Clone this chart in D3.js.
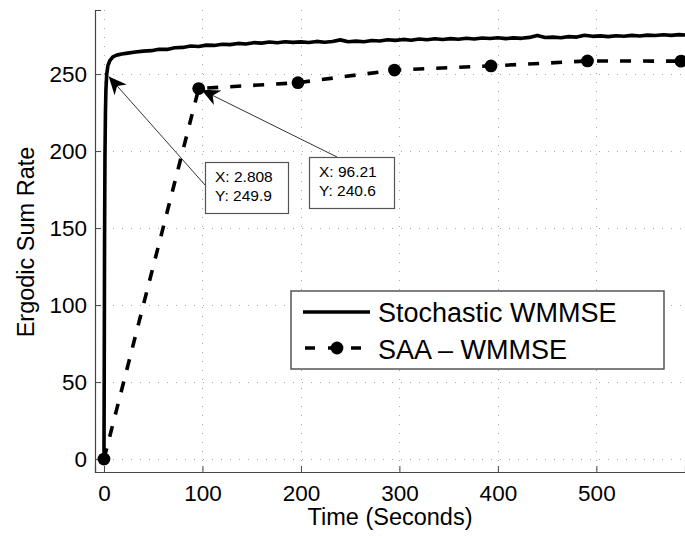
<!DOCTYPE html>
<html>
<head>
<meta charset="utf-8">
<style>
  body { margin: 0; background: #fff; }
  svg { font-family: "Liberation Sans", Arial, sans-serif; }
</style>
</head>
<body>
<script src="https://cdn.jsdelivr.net/npm/d3@7"></script>
<script>

// stochastic WMMSE curve (time in seconds, ergodic sum rate)
var stochX = [0, 0.3, 0.6, 1, 1.5, 2, 2.808, 4, 6, 9, 13, 18,
  24, 32, 40, 48, 56, 64, 72, 80, 88, 96, 104, 112, 120, 128, 136, 144, 152, 160,
  168, 176, 184, 192, 200, 208, 216, 224, 232, 240, 248, 256, 264, 272, 280, 288,
  296, 304, 312, 320, 328, 336, 344, 352, 360, 368, 376, 384, 392, 400, 408, 416,
  424, 432, 440, 448, 456, 464, 472, 480, 488, 496, 504, 512, 520, 528, 536, 544,
  552, 560, 568, 576, 584, 590];
var stochY = [0, 60, 140, 195, 225, 240, 249.9, 255.5, 258.8, 261.2, 262.3, 263.0,
  263.6, 264.3, 264.9, 265.2, 266.1, 266.0, 267.1, 267.3, 268.2, 267.9, 268.8, 268.6, 269.4, 269.1, 269.9, 269.5, 270.4, 270.1,
  270.8, 270.3, 271.0, 270.6, 270.9, 270.5, 271.2, 270.7, 271.1, 272.2, 271.0, 271.4, 271.0, 271.8, 271.5, 272.3,
  271.9, 272.5, 272.0, 272.8, 272.3, 272.9, 272.4, 273.0, 272.6, 273.3, 272.8, 273.4, 273.1, 273.6, 273.0, 273.5,
  273.2, 273.8, 275.1, 273.7, 274.0, 273.6, 274.3, 274.0, 275.2, 274.5, 274.8, 274.3, 274.9, 274.6, 275.1, 274.7,
  275.3, 275.0, 275.5, 275.1, 275.6, 275.4];

// SAA - WMMSE points
var saaX = [0, 96.21, 197, 295, 393, 491, 586];
var saaY = [0, 240.6, 244.4, 252.6, 255.3, 258.5, 258.4];

var xTicks = [0, 100, 200, 300, 400, 500];
var yTicks = [0, 50, 100, 150, 200, 250];

// data cursor boxes
var cursors = [
  {x: 2.808, y: 249.9, lines: ["X: 2.808", "Y: 249.9"]},
  {x: 96.21, y: 240.6, lines: ["X: 96.21", "Y: 240.6"]}
];

var W = 685, H = 537;
var pL = 95, pR = 685, pT = 10, pB = 472;

var svg = d3.select("body").append("svg")
  .attr("width", W).attr("height", H);

svg.append("rect").attr("width", W).attr("height", H).attr("fill", "#fff");

var x = d3.scaleLinear().domain([-9.1, 590]).range([pL, pR]);
var y = d3.scaleLinear().domain([-8.4, 291.6]).range([pB, pT]);

var defs = svg.append("defs");
defs.append("clipPath").attr("id", "clip")
  .append("rect").attr("x", pL).attr("y", pT)
  .attr("width", pR - pL).attr("height", pB - pT);
defs.append("marker").attr("id", "arr")
  .attr("viewBox", "0 0 10 10").attr("refX", 10).attr("refY", 5)
  .attr("markerWidth", 18).attr("markerHeight", 18)
  .attr("markerUnits", "userSpaceOnUse")
  .attr("orient", "auto")
  .append("path").attr("d", "M0,0.5 L10,5 L0,9.5 L3,5 Z").attr("fill", "#000");

// grid
var grid = svg.append("g")
  .attr("stroke", "#aaa").attr("stroke-width", 1)
  .attr("stroke-dasharray", "1,8");
grid.selectAll(".gx").data(xTicks).enter().append("line")
  .attr("x1", function(d) { return Math.round(x(d)) + 0.5; })
  .attr("x2", function(d) { return Math.round(x(d)) + 0.5; })
  .attr("y1", pT).attr("y2", pB);
grid.selectAll(".gy").data(yTicks).enter().append("line")
  .attr("y1", function(d) { return Math.round(y(d)) + 0.5; })
  .attr("y2", function(d) { return Math.round(y(d)) + 0.5; })
  .attr("x1", pL).attr("x2", pR);

// axes
var xAxis = svg.append("g")
  .attr("transform", "translate(0," + pB + ")")
  .call(d3.axisBottom(x).tickValues(xTicks).tickSize(-6).tickPadding(13));
var yAxis = svg.append("g")
  .attr("transform", "translate(" + pL + ",0)")
  .call(d3.axisLeft(y).tickValues(yTicks).tickSize(-6).tickPadding(8));
[xAxis, yAxis].forEach(function(a) {
  a.select(".domain").attr("stroke", "#444").attr("stroke-width", 1.2);
  a.selectAll(".tick line").attr("stroke", "#444");
  a.selectAll("text").attr("font-size", 22.5).attr("fill", "#000")
    .attr("font-family", "Liberation Sans, Arial, sans-serif");
});
xAxis.selectAll("text").attr("dy", "0.71em");
yAxis.selectAll("text").attr("x", -8);

svg.append("text")
  .attr("x", (pL + pR) / 2).attr("y", 525)
  .attr("text-anchor", "middle").attr("font-size", 23.5)
  .text("Time (Seconds)");
svg.append("text")
  .attr("transform", "translate(34,242) rotate(-90)")
  .attr("text-anchor", "middle").attr("font-size", 23.5)
  .text("Ergodic Sum Rate");

// series
var plot = svg.append("g").attr("clip-path", "url(#clip)");

var stoch = stochX.map(function(d, i) { return [d, stochY[i]]; });
var saa = saaX.map(function(d, i) { return [d, saaY[i]]; });
var line = d3.line()
  .x(function(d) { return x(d[0]); })
  .y(function(d) { return y(d[1]); });

plot.append("path").datum(saa)
  .attr("d", line).attr("fill", "none")
  .attr("stroke", "#000").attr("stroke-width", 3.6)
  .attr("stroke-dasharray", "11,12");
plot.selectAll(".dot").data(saa).enter().append("circle")
  .attr("cx", function(d) { return x(d[0]); })
  .attr("cy", function(d) { return y(d[1]); })
  .attr("r", 6.4).attr("fill", "#000");

plot.append("path").datum(stoch)
  .attr("d", line).attr("fill", "none")
  .attr("stroke", "#000").attr("stroke-width", 3.6)
  .attr("stroke-linejoin", "round");

// data cursors
var boxes = [
  {x0: 205, y0: 162, x1: 288, y1: 213, ax: 205, ay: 185},
  {x0: 309, y0: 157, x1: 394, y1: 208, ax: 337, ay: 157}
];
cursors.forEach(function(c, i) {
  var b = boxes[i];
  var px = x(c.x), py = y(c.y);
  var dx = b.ax - px, dy = b.ay - py, len = Math.sqrt(dx * dx + dy * dy);
  svg.append("line")
    .attr("x1", b.ax).attr("y1", b.ay)
    .attr("x2", px + dx / len * 3).attr("y2", py + dy / len * 3)
    .attr("stroke", "#333").attr("stroke-width", 1)
    .attr("marker-end", "url(#arr)");
  svg.append("rect")
    .attr("x", b.x0 + 0.5).attr("y", b.y0 + 0.5)
    .attr("width", b.x1 - b.x0).attr("height", b.y1 - b.y0)
    .attr("fill", "#fff").attr("stroke", "#555").attr("stroke-width", 1.2);
  c.lines.forEach(function(t, j) {
    svg.append("text")
      .attr("x", b.x0 + 10).attr("y", b.y0 + 20 + j * 18.5)
      .attr("font-size", 15.5).text(t);
  });
});

// legend
var lg = svg.append("g");
lg.append("rect")
  .attr("x", 291).attr("y", 291).attr("width", 373).attr("height", 78)
  .attr("fill", "#fff").attr("stroke", "#555").attr("stroke-width", 1.5);
lg.append("line")
  .attr("x1", 303).attr("x2", 370).attr("y1", 312).attr("y2", 312)
  .attr("stroke", "#000").attr("stroke-width", 3.6);
lg.append("line")
  .attr("x1", 305).attr("x2", 369).attr("y1", 348).attr("y2", 348)
  .attr("stroke", "#000").attr("stroke-width", 3.6)
  .attr("stroke-dasharray", "10,13");
lg.append("circle").attr("cx", 337).attr("cy", 348).attr("r", 6.4).attr("fill", "#000");
lg.append("text").attr("x", 378).attr("y", 322).attr("font-size", 27).text("Stochastic WMMSE");
lg.append("text").attr("x", 378).attr("y", 359).attr("font-size", 27).text("SAA \u2013 WMMSE");

</script>
</body>
</html>
